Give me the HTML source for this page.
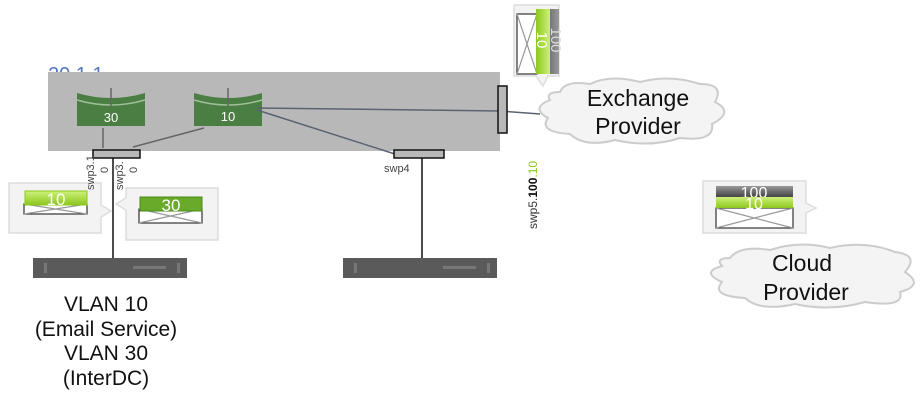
<!DOCTYPE html>
<html><head><meta charset="utf-8"><style>
html,body{margin:0;padding:0;background:#fff;width:920px;height:412px;overflow:hidden}
svg{display:block;font-family:"Liberation Sans",sans-serif}
</style></head><body>
<svg width="920" height="412" viewBox="0 0 920 412">
<defs>
<linearGradient id="gr" x1="0" y1="0" x2="0" y2="1"><stop offset="0" stop-color="#cdf07a"/><stop offset="1" stop-color="#8cc81e"/></linearGradient>
<linearGradient id="gy" x1="0" y1="0" x2="0" y2="1"><stop offset="0" stop-color="#999"/><stop offset="1" stop-color="#444"/></linearGradient>
<linearGradient id="grv" x1="0" y1="0" x2="1" y2="0"><stop offset="0" stop-color="#8cc81e"/><stop offset="1" stop-color="#cdf07a"/></linearGradient>
<linearGradient id="gyv" x1="0" y1="0" x2="1" y2="0"><stop offset="0" stop-color="#444"/><stop offset="1" stop-color="#999"/></linearGradient>
</defs>
<text x="48" y="81" font-size="20" fill="#5577bb">20.1.1</text>
<rect x="48" y="72" width="452" height="79" fill="#b8b8b8"/>
<g>
<path d="M77 93 Q111 103 145 93 L145 126 L77 126 Z" fill="#4a7e42"/>
<path d="M77 100 Q111 110 145 100" stroke="#9fbf9a" stroke-width="1.5" fill="none"/>
<text x="111" y="122" font-size="13" fill="#fff" text-anchor="middle">30</text>
<path d="M194 93 Q228 103 262 93 L262 126 L194 126 Z" fill="#4a7e42"/>
<path d="M194 100 Q228 110 262 100" stroke="#9fbf9a" stroke-width="1.5" fill="none"/>
<text x="228" y="121" font-size="13" fill="#fff" text-anchor="middle">10</text>
</g>
<g stroke="#666" stroke-width="1.5" fill="none">
<line x1="111" y1="88" x2="111" y2="106"/>
<line x1="228" y1="88" x2="228" y2="106"/>
<line x1="103" y1="128" x2="103" y2="148"/>
<line x1="204" y1="128" x2="133" y2="147"/>
<line x1="257" y1="108" x2="500" y2="111" stroke="#5a6370"/>
<line x1="500" y1="111" x2="540" y2="114" stroke="#5a6370"/>
<line x1="257" y1="110" x2="398" y2="155" stroke="#5a6370"/>
</g>
<rect x="93" y="150" width="47" height="8" fill="#b8b8b8" stroke="#111" stroke-width="1.5"/>
<rect x="394" y="150" width="50" height="8" fill="#b8b8b8" stroke="#111" stroke-width="1.5"/>
<rect x="498" y="86" width="9" height="47" fill="#b8b8b8" stroke="#111" stroke-width="1.5"/>
<line x1="113" y1="158" x2="113" y2="258" stroke="#111" stroke-width="1.5"/>
<line x1="422" y1="158" x2="422" y2="258" stroke="#111" stroke-width="1.5"/>
<rect x="33" y="258" width="154" height="20" fill="#5a5a5a"/>
<rect x="44" y="263" width="3" height="10" fill="#777"/><rect x="133" y="266" width="33" height="3" fill="#777"/><rect x="177" y="263" width="3" height="10" fill="#777"/>
<rect x="343" y="258" width="154" height="20" fill="#5a5a5a"/>
<rect x="354" y="263" width="3" height="10" fill="#777"/><rect x="443" y="266" width="33" height="3" fill="#777"/><rect x="487" y="263" width="3" height="10" fill="#777"/>
<g font-size="21" fill="#111" text-anchor="middle">
<text x="106" y="311">VLAN 10</text>
<text x="106" y="336">(Email Service)</text>
<text x="106" y="360">VLAN 30</text>
<text x="106" y="385">(InterDC)</text>
</g>
<g fill="#f3f3f3" stroke="#ddd" stroke-width="1.5">
<path d="M9 183 L101 183 L101 205 L111 211 L101 217 L101 233 L9 233 Z"/>
<path d="M126 188 L218 188 L218 240 L126 240 L126 210 L116 204 L126 198 Z"/>
<path d="M514 5 L559 5 L559 76 L548 76 L543 86 L536 76 L514 76 Z"/>
<path d="M703 181 L806 181 L806 203 L816 208 L806 213 L806 233 L703 233 Z"/>
</g>
<g font-size="11" fill="#444">
<text transform="translate(94,190) rotate(-90)">swp3.1</text>
<text transform="translate(108,173) rotate(-90)">0</text>
<text transform="translate(123,190) rotate(-90)">swp3.</text>
<text transform="translate(137,173) rotate(-90)">0</text>
<text x="384" y="172">swp4</text>
<text transform="translate(537,229) rotate(-90)" font-size="12"><tspan fill="#333">swp5.</tspan><tspan fill="#111" font-weight="bold">100</tspan><tspan fill="#8cc81e">.10</tspan></text>
</g>
<g stroke="#333" stroke-width="1.2" fill="#fff">
<rect x="24" y="204" width="63" height="10"/>
<path d="M24 204 L87 214 M87 204 L24 214" stroke="#999"/>
<rect x="139" y="209" width="63" height="14"/>
<path d="M139 209 L202 223 M202 209 L139 223" stroke="#999"/>
<rect x="517" y="14" width="20" height="60"/>
<path d="M517 14 L537 74 M537 14 L517 74" stroke="#999"/>
<rect x="716" y="208" width="77" height="20"/>
<path d="M716 208 L793 228 M793 208 L716 228" stroke="#999"/>
</g>
<rect x="25" y="191" width="62" height="14" fill="url(#gr)" stroke="#8cc81e"/>
<text x="56" y="205" font-size="17" fill="#fff" text-anchor="middle">10</text>
<rect x="140" y="197" width="62" height="14" fill="#6aaa2a" stroke="#4a8a1a"/>
<text x="171" y="211" font-size="17" fill="#fff" text-anchor="middle">30</text>
<rect x="537" y="9" width="22" height="65" fill="url(#gyv)"/>
<rect x="536" y="9" width="14" height="65" fill="url(#grv)"/>
<text transform="translate(537,40) rotate(90)" font-size="15" fill="#fff" text-anchor="middle">10</text>
<text transform="translate(551,40) rotate(90)" font-size="15" fill="#ddd" text-anchor="middle">100</text>
<rect x="716" y="186" width="77" height="11" fill="url(#gy)"/>
<text x="754" y="198" font-size="16" fill="#fff" text-anchor="middle">100</text>
<rect x="716" y="197" width="77" height="11" fill="url(#gr)"/>
<text x="754" y="209" font-size="16" fill="#fff" text-anchor="middle">10</text>
<g fill="#f4f4f4" stroke="#ccc" stroke-width="2">
<path d="M560 92 Q565 80 590 84 Q610 74 640 82 Q670 74 700 84 Q725 84 715 102 Q735 112 712 124 Q715 142 680 138 Q650 148 615 140 Q585 148 570 134 Q538 132 548 118 Q530 108 550 100 Q545 92 560 92 Z"/>
<path d="M730 258 Q740 245 770 250 Q800 240 830 248 Q865 240 895 252 Q920 255 905 272 Q925 285 900 292 Q905 308 865 302 Q830 312 795 304 Q760 312 745 298 Q710 296 722 282 Q700 272 722 266 Q715 258 730 258 Z"/>
</g>
<g font-size="23" fill="#111" text-anchor="middle">
<text x="638" y="106">Exchange</text>
<text x="638" y="134">Provider</text>
<text x="802" y="271">Cloud</text>
<text x="806" y="300">Provider</text>
</g>
</svg>
</body></html>
